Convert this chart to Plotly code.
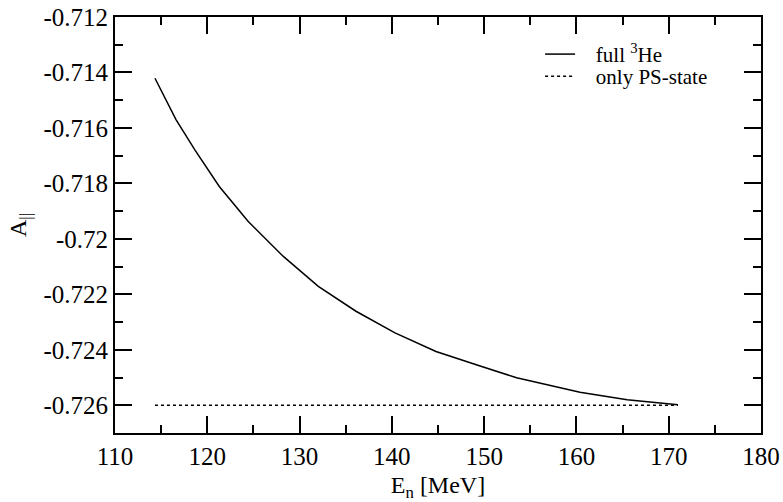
import plotly.graph_objects as go

# Data
energy_full = [114.33, 116.61, 118.67, 121.30, 124.44, 128.24, 132.03, 136.11, 140.34,
               144.78, 149.73, 153.52, 160.38, 165.5, 171.0]
a_full = [-0.714208, -0.715700, -0.716800, -0.718112, -0.719373, -0.720633, -0.72171,
          -0.72261, -0.72339, -0.72406, -0.72460, -0.72501, -0.72553, -0.72580, -0.72598]
energy_ps = [114.33, 171.0]
a_ps = [-0.726, -0.726]

x_tickvals = [110, 120, 130, 140, 150, 160, 170, 180]
x_ticktext = ["110", "120", "130", "140", "150", "160", "170", "180"]
y_tickvals = [-0.712, -0.714, -0.716, -0.718, -0.720, -0.722, -0.724, -0.726]
y_ticktext = ["-0.712", "-0.714", "-0.716", "-0.718", "-0.72", "-0.722", "-0.724", "-0.726"]

font_family = "Liberation Serif, Times New Roman, Times, serif"

fig = go.Figure()
fig.add_trace(go.Scatter(x=energy_full, y=a_full, mode="lines",
                         name="&nbsp;&nbsp;&nbsp;full <sup>3</sup>He", legend="legend",
                         line=dict(color="black", width=1.5)))
fig.add_trace(go.Scatter(x=energy_ps, y=a_ps, mode="lines",
                         name="&nbsp;&nbsp;&nbsp;only PS-state", legend="legend2",
                         line=dict(color="black", width=1.5, dash="dot")))

axis_common = dict(
    showgrid=False, zeroline=False, showline=True, linecolor="black", linewidth=2,
    mirror="ticks", ticks="inside", ticklen=17, tickwidth=1.5, tickcolor="black",
    tickfont=dict(family=font_family, size=25, color="black"), automargin=False,
)

fig.update_xaxes(range=[110, 180], tickvals=x_tickvals, ticktext=x_ticktext,
                 minor=dict(dtick=5, tick0=110, ticks="inside", ticklen=8, tickwidth=1.5,
                            tickcolor="black"),
                 title=dict(text="E<sub>n</sub> [MeV]",
                            font=dict(family=font_family, size=24, color="black"),
                            standoff=8),
                 **axis_common)
fig.update_yaxes(range=[-0.727, -0.712], tickvals=y_tickvals, ticktext=y_ticktext,
                 minor=dict(dtick=0.001, tick0=-0.726, ticks="inside", ticklen=8,
                            tickwidth=1.5, tickcolor="black"),
                 title=dict(text="A<sub>||</sub>",
                            font=dict(family=font_family, size=24, color="black"),
                            standoff=10),
                 **axis_common)

legend_common = dict(xanchor="left", yanchor="middle", bgcolor="rgba(0,0,0,0)",
                     borderwidth=0, itemwidth=30,
                     font=dict(family=font_family, size=21, color="black"))

fig.update_layout(
    width=783, height=502,
    margin=dict(l=115, r=22, t=17, b=69),
    paper_bgcolor="white", plot_bgcolor="white",
    font=dict(family=font_family, color="black"),
    legend=dict(x=0.658, y=0.91, **legend_common),
    legend2=dict(x=0.658, y=0.857, **legend_common),
    showlegend=True,
)

fig.write_html("out.html")
